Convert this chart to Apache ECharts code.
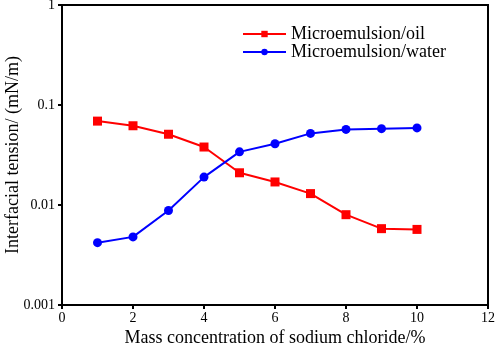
<!DOCTYPE html>
<html>
<head>
<meta charset="utf-8">
<script src="https://cdn.jsdelivr.net/npm/echarts@6/dist/echarts.min.js"></script>
<style>
	html, body { margin: 0; padding: 0; background: #fff; }
	#tuxing { width: 498px; height: 347px; }
</style>
</head>
<body>
<div id="tuxing"></div>
<script>
// 数据
var nacl = [1, 2, 3, 4, 5, 6, 7, 8, 9, 10];
var oilIft = [0.069, 0.062, 0.051, 0.038, 0.021, 0.017, 0.013, 0.008, 0.0058, 0.0057];
var waterIft = [0.0042, 0.0048, 0.0088, 0.019, 0.034, 0.041, 0.052, 0.057, 0.058, 0.059];
var yTicks = ['0.001', '0.01', '0.1', '1'];

function pairs(xs, ys) {
	var out = [];
	for (var i = 0; i < xs.length; i++) {
		out.push([xs[i], ys[i]]);
	}
	return out;
}

var myChart = echarts.init(document.getElementById('tuxing'));
var serif = 'Liberation Serif';

var option = {
	animation: false,
	textStyle: { fontFamily: serif, color: '#000' },
	grid: {
		left: 62, right: 10, top: 5, bottom: 42,
		outerBoundsMode: 'none',
		containLabel: false,
		show: true, borderColor: '#000', borderWidth: 2
	},
	legend: {
		orient: 'vertical',
		left: 237, top: 20,
		itemWidth: 43, itemHeight: 8, itemGap: 0,
		textStyle: { fontFamily: serif, fontSize: 18, color: '#000' },
		data: ['Microemulsion/oil', 'Microemulsion/water']
	},
	xAxis: {
		type: 'value',
		min: 0, max: 12, interval: 2,
		name: 'Mass concentration of sodium chloride/%',
		nameLocation: 'center',
		nameGap: 24,
		nameMoveOverlap: false,
		nameTextStyle: { fontFamily: serif, fontSize: 18, color: '#000' },
		axisLine: { lineStyle: { color: '#000', width: 2 } },
		axisTick: { inside: false, length: 4, lineStyle: { color: '#000', width: 2 } },
		axisLabel: { fontFamily: serif, fontSize: 14, color: '#000', margin: 6 },
		splitLine: { show: false }
	},
	yAxis: {
		type: 'log',
		logBase: 10,
		min: 0.001, max: 1,
		name: 'Interfacial tension/ (mN/m)',
		nameLocation: 'center',
		nameGap: 40,
		nameMoveOverlap: false,
		nameTextStyle: { fontFamily: serif, fontSize: 18, color: '#000' },
		axisLine: { lineStyle: { color: '#000', width: 2 } },
		axisTick: { inside: false, length: 4, lineStyle: { color: '#000', width: 2 } },
		axisLabel: {
			fontFamily: serif, fontSize: 14, color: '#000', margin: 7,
			formatter: function(v) {
				var k = Math.round(Math.log10(v)) + 3;
				return yTicks[k] !== undefined ? yTicks[k] : '';
			}
		},
		splitLine: { show: false }
	},
	series: [{
		name: 'Microemulsion/oil',
		type: 'line',
		data: pairs(nacl, oilIft),
		color: '#ff0000',
		symbol: 'rect',
		symbolSize: 9,
		lineStyle: { width: 2 }
	}, {
		name: 'Microemulsion/water',
		type: 'line',
		data: pairs(nacl, waterIft),
		color: '#0000ff',
		symbol: 'circle',
		symbolSize: 9,
		lineStyle: { width: 2 }
	}]
};
myChart.setOption(option);
</script>
</body>
</html>
